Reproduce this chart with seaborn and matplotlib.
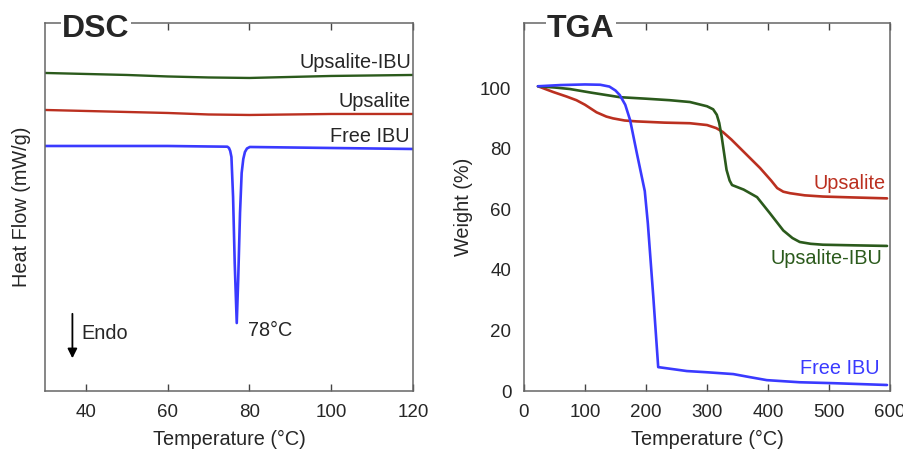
import numpy as np
import pandas as pd
import matplotlib
matplotlib.use("Agg")
import matplotlib.pyplot as plt
import seaborn as sns

# ---- DSC data (arbitrary heat-flow units, curves offset) ----
dsc_T_ibu = [30, 45, 60, 70, 74.6, 75.0, 75.3, 75.6, 76.0, 76.4, 76.9, 77.25, 77.7, 78.1, 78.5, 78.9, 79.4, 80.1, 90, 100, 110, 120]
dsc_ibu = [2.45, 2.45, 2.45, 2.445, 2.443, 2.43, 2.40, 2.34, 1.94, 1.28, 0.68, 1.11, 1.78, 2.18, 2.32, 2.39, 2.425, 2.44, 2.435, 2.43, 2.425, 2.42]
dsc_T = [30, 40, 50, 60, 70, 80, 90, 100, 110, 120]
dsc_ups = [2.81, 2.80, 2.79, 2.78, 2.765, 2.76, 2.765, 2.77, 2.77, 2.77]
dsc_ups_ibu = [3.18, 3.17, 3.16, 3.145, 3.135, 3.13, 3.14, 3.15, 3.155, 3.16]

# ---- TGA data ----
tga_T_ibu = [23, 60, 100, 125, 140, 150, 157, 166, 174, 185, 198, 203, 212, 220, 267, 300, 343, 370, 398, 452, 507, 595]
tga_ibu = [100.6, 101.0, 101.2, 101.1, 100.5, 99.2, 97.7, 94.5, 89.4, 78.5, 66, 55.4, 31, 7.9, 6.6, 6.2, 5.6, 4.6, 3.6, 2.9, 2.6, 2.0]
tga_T_ups_ibu = [23, 50, 75, 110, 157, 200, 239, 272, 300, 310, 316, 320, 324, 332, 337, 341, 360, 382, 403, 425, 440, 452, 470, 490, 540, 595]
tga_ups_ibu = [100.6, 100.2, 99.7, 98.5, 97, 96.5, 96, 95.4, 94, 93, 91.2, 88.5, 84, 73, 69.5, 68, 66.5, 64, 58.7, 53, 50.5, 49.2, 48.6, 48.3, 48.1, 47.9]
tga_T_ups = [23, 48, 70, 86, 100, 119, 135, 146, 165, 185, 230, 272, 300, 315, 326, 340, 354, 370, 387, 405, 415, 425, 436, 460, 490, 540, 595]
tga_ups = [100.6, 98.7, 97.2, 96, 94.5, 92, 90.6, 90, 89.3, 89, 88.6, 88.4, 87.8, 86.8, 85.5, 83, 80.2, 77, 73.6, 69.5, 67, 65.8, 65.3, 64.6, 64.2, 63.9, 63.6]

c_green = "#2b5a1c"
c_red = "#bb3020"
c_blue = "#3a3aff"
spine_c = "#666666"

sns.set_style("white")
plt.rcParams['font.family'] = ['Liberation Sans', 'DejaVu Sans']
plt.rcParams['font.size'] = 13

fig = plt.figure(figsize=(9.04, 4.5), dpi=100)
ax1 = fig.add_axes([0.0498, 0.131, 0.407, 0.818])
ax2 = fig.add_axes([0.5796, 0.131, 0.405, 0.818])

lab_fs = 14.3

# ====== DSC ======
sns.lineplot(x=dsc_T, y=dsc_ups_ibu, ax=ax1, color=c_green, lw=1.7)
sns.lineplot(x=dsc_T, y=dsc_ups, ax=ax1, color=c_red, lw=1.7)
sns.lineplot(x=dsc_T_ibu, y=dsc_ibu, ax=ax1, color=c_blue, lw=1.9)
ax1.set_xlim(30, 120)
ax1.set_ylim(0, 3.68)
ax1.set_xticks([40, 60, 80, 100, 120])
ax1.set_yticks([])
ax1.set_xlabel("Temperature (°C)", fontsize=lab_fs, labelpad=7)
ax1.set_ylabel("Heat Flow (mW/g)", fontsize=lab_fs, labelpad=10)
ax1.text(119.5, 3.28, "Upsalite-IBU", ha="right", va="center", fontsize=lab_fs)
ax1.text(119.5, 2.89, "Upsalite", ha="right", va="center", fontsize=lab_fs)
ax1.text(119.2, 2.54, "Free IBU", ha="right", va="center", fontsize=lab_fs)
ax1.text(79.6, 0.61, "78°C", ha="left", va="center", fontsize=lab_fs)
ax1.annotate("", xy=(36.7, 0.30), xytext=(36.7, 0.80),
             arrowprops=dict(arrowstyle="-|>", color="black", lw=1.3, mutation_scale=14))
ax1.text(38.9, 0.58, "Endo", ha="left", va="center", fontsize=lab_fs)

# ====== TGA ======
sns.lineplot(x=tga_T_ups, y=tga_ups, ax=ax2, color=c_red, lw=1.9)
sns.lineplot(x=tga_T_ups_ibu, y=tga_ups_ibu, ax=ax2, color=c_green, lw=1.9)
sns.lineplot(x=tga_T_ibu, y=tga_ibu, ax=ax2, color=c_blue, lw=1.9)
ax2.set_xlim(0, 600)
ax2.set_ylim(0, 121.5)
ax2.set_xticks([0, 100, 200, 300, 400, 500, 600])
ax2.set_yticks([0, 20, 40, 60, 80, 100])
ax2.set_xlabel("Temperature (°C)", fontsize=lab_fs, labelpad=7)
ax2.set_ylabel("Weight (%)", fontsize=lab_fs, labelpad=5)
ax2.text(593, 68.6, "Upsalite", ha="right", va="center", fontsize=lab_fs, color=c_red)
ax2.text(587, 43.6, "Upsalite-IBU", ha="right", va="center", fontsize=lab_fs, color=c_green)
ax2.text(583, 7.6, "Free IBU", ha="right", va="center", fontsize=lab_fs, color=c_blue)

for ax, title, tx in [(ax1, "DSC", 0.046), (ax2, "TGA", 0.063)]:
    for s in ax.spines.values():
        s.set_color(spine_c)
        s.set_linewidth(1.1)
    ax.tick_params(axis="x", direction="in", length=5, width=1, color="#444444",
                   top=True, bottom=True, pad=9, labelsize=13.5)
    ax.tick_params(axis="y", length=0, pad=9, labelsize=13.5)
    ax.text(tx, 0.962, title, transform=ax.transAxes, ha="left", va="baseline",
            fontsize=23, fontweight="bold", zorder=10,
            bbox=dict(facecolor="white", edgecolor="none", pad=1))

fig.savefig("out.png", dpi=100)
